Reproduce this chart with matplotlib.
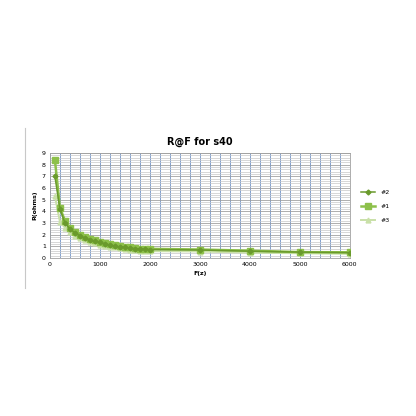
import matplotlib
matplotlib.use("Agg")
import matplotlib.pyplot as plt
from matplotlib.ticker import MultipleLocator
from matplotlib.lines import Line2D

freq = [100, 200, 300, 400, 500, 600, 700, 800, 900, 1000,
        1100, 1200, 1300, 1400, 1500, 1600, 1700, 1800, 1900, 2000,
        3000, 4000, 5000, 6000]
r_2 = [7.0, 4.2, 3.0, 2.5, 2.15, 1.9, 1.7, 1.55, 1.45, 1.35,
       1.2, 1.1, 1.0, 0.95, 0.9, 0.85, 0.8, 0.78, 0.75, 0.72,
       0.68, 0.58, 0.5, 0.45]
r_1 = [8.4, 4.3, 3.2, 2.6, 2.25, 2.0, 1.8, 1.6, 1.5, 1.4,
       1.3, 1.2, 1.1, 1.0, 0.95, 0.9, 0.85, 0.8, 0.8, 0.78,
       0.72, 0.62, 0.5, 0.48]
r_3 = [5.3, 3.1, 2.6, 2.2, 1.9, 1.7, 1.55, 1.4, 1.3, 1.15,
       1.05, 0.95, 0.9, 0.85, 0.8, 0.72, 0.68, 0.62, 0.6, 0.58,
       0.55, 0.45, 0.4, 0.35]
series_names = ["#2", "#1", "#3"]

fig = plt.figure(figsize=(4.16, 4.16), dpi=100)
ax = fig.add_axes([0.12, 0.38, 0.721, 0.252])

ax.plot(freq, r_3, color="#c9e0a8", marker="^", markersize=3.5, linewidth=1.4, zorder=3)
ax.plot(freq, r_1, color="#8dc04a", marker="s", markersize=4.5, linewidth=1.8, zorder=4)
ax.plot(freq, r_2, color="#6a9a2c", marker="D", markersize=2.5, linewidth=1.1, zorder=5)

ax.set_xlim(0, 6000)
ax.set_ylim(0, 9)
ax.xaxis.set_major_locator(MultipleLocator(1000))
ax.xaxis.set_minor_locator(MultipleLocator(200))
ax.yaxis.set_major_locator(MultipleLocator(1))
ax.yaxis.set_minor_locator(MultipleLocator(0.2))
ax.grid(which="minor", axis="y", color="#c8c8c8", linewidth=0.5)
ax.grid(which="major", axis="y", color="#a0a0a0", linewidth=0.6)
ax.grid(which="both", axis="x", color="#6a8fc8", linewidth=0.6)
ax.set_axisbelow(True)
ax.tick_params(which="both", length=0, labelsize=4.5, pad=3)
for s in ax.spines.values():
    s.set_color("#a0a0a0")
    s.set_linewidth(0.6)

ax.set_title("R@F for s40", fontsize=7, fontweight="bold", pad=6)
ax.set_xlabel("F(z)", fontsize=4.5, fontweight="bold", labelpad=3)
ax.set_ylabel("R(ohms)", fontsize=4.5, fontweight="bold", labelpad=3)

handles = [
    Line2D([], [], color="#6a9a2c", marker="D", markersize=2.5, linewidth=1.1),
    Line2D([], [], color="#8dc04a", marker="s", markersize=4, linewidth=1.8),
    Line2D([], [], color="#c9e0a8", marker="^", markersize=3.5, linewidth=1.4),
]
fig.legend(handles, series_names, loc="center left", bbox_to_anchor=(0.855, 0.504),
           frameon=False, fontsize=4.5, handlelength=2.2, labelspacing=1.4)

# thin chart border line on the left
fig.add_artist(Line2D([0.06, 0.06], [0.307, 0.692], color="#c8c8c8", linewidth=0.8))

fig.savefig("out.png", dpi=100, facecolor="white")
